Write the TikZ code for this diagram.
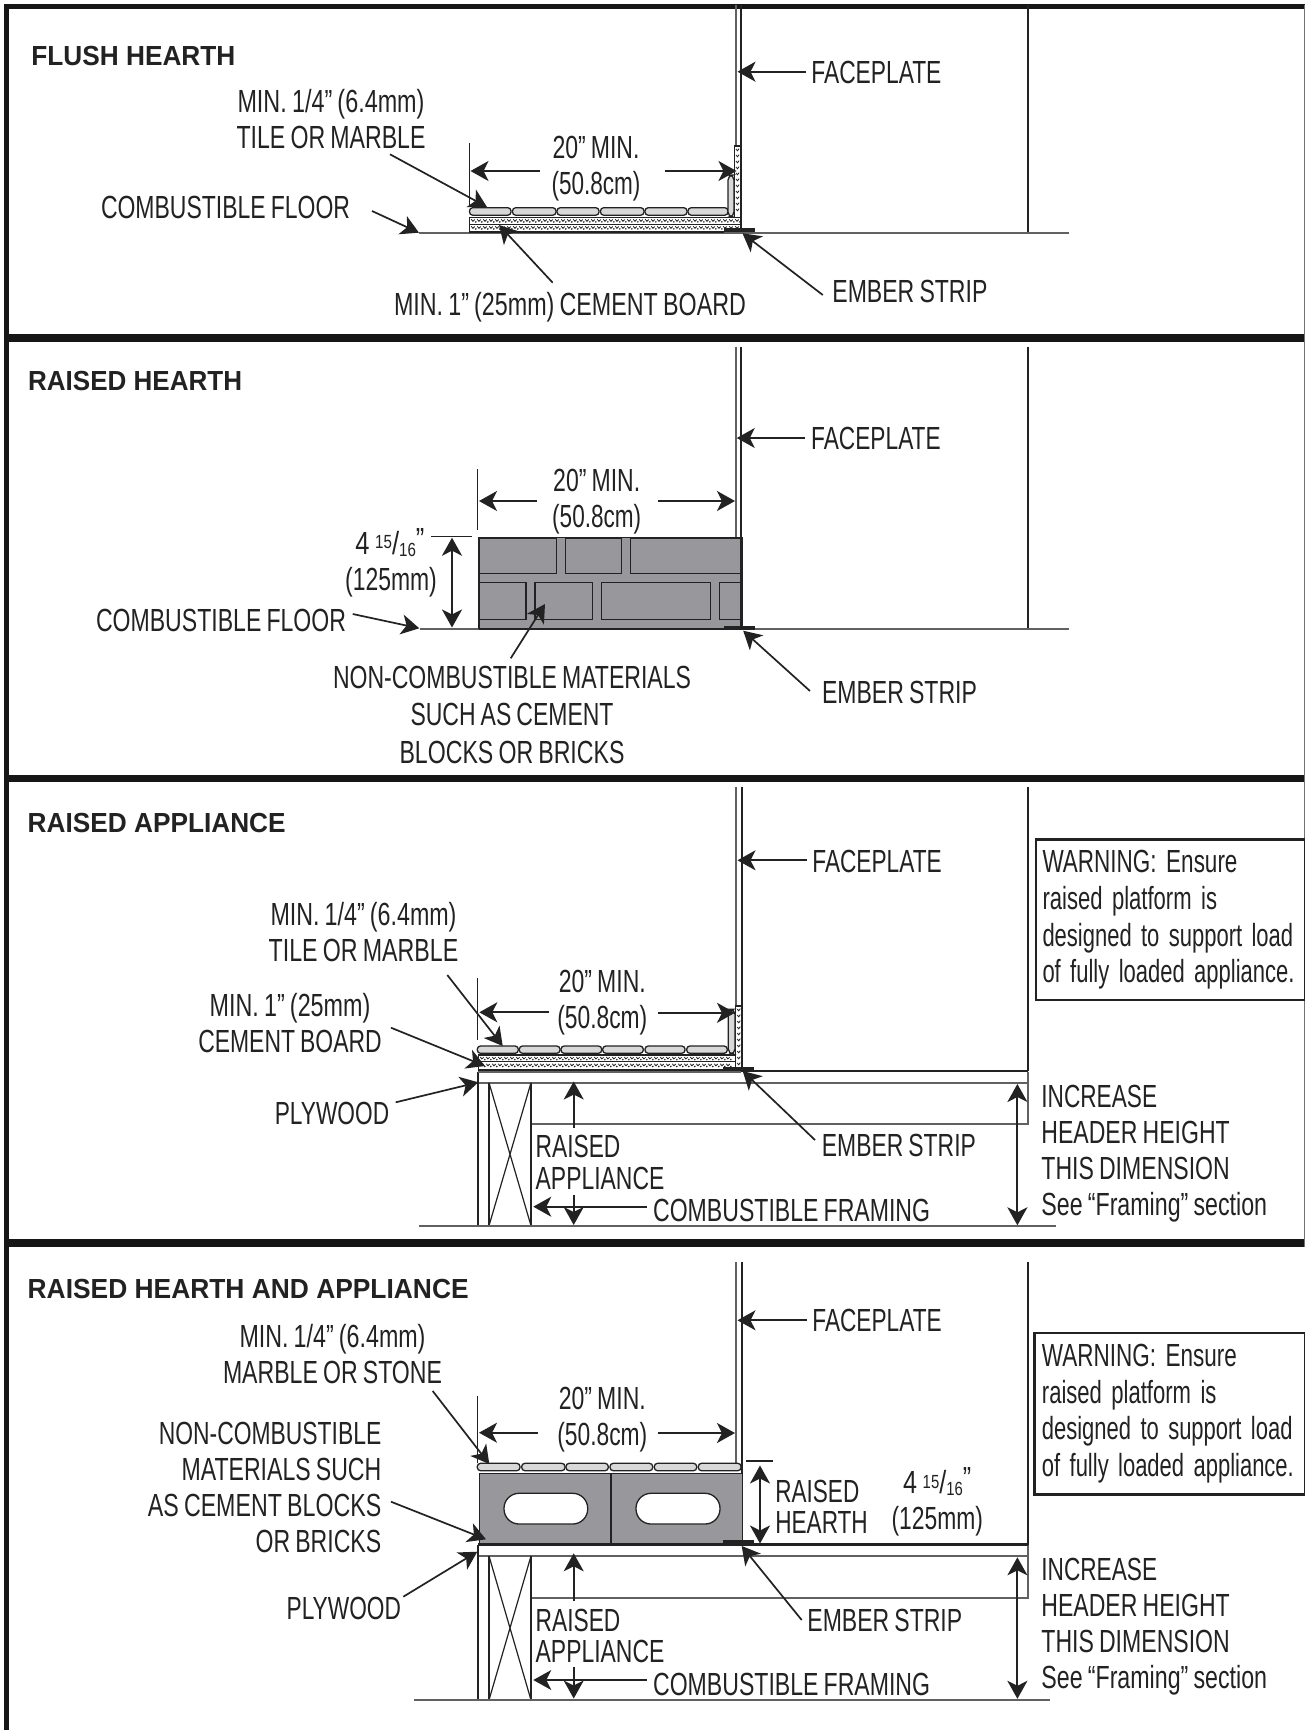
\documentclass[tikz,border=0pt]{standalone}
\usepackage{fontspec}
\usepackage{graphicx}
\usetikzlibrary{arrows.meta}
\setmainfont[FakeStretch=0.78,WordSpace=0.8]{Liberation Sans}
\newfontfamily\titlefont{Liberation Sans}
\definecolor{ink}{HTML}{222222}
\definecolor{barc}{HTML}{161616}
\definecolor{blockc}{HTML}{98989C}
\definecolor{tilec}{HTML}{D8D8D9}
\newsavebox\fitbox
\newcommand\fit[2]{\sbox\fitbox{#2}\pgfmathsetmacro\fitr{#1*0.5/\wd\fitbox}\scalebox{\fitr}[1]{\usebox\fitbox}}
\newcommand\frc{4 \raisebox{2.6pt}{\fontsize{9.5}{9.5}\selectfont 15}/\raisebox{-1.2pt}{\fontsize{9.5}{9.5}\selectfont 16}\raisebox{2pt}{”}}
\tikzset{
  lbl/.style={inner sep=0pt,anchor=base,text=ink,font=\fontsize{16}{18}\selectfont,align=center},
  lblw/.style={lbl,anchor=base west,align=left},
  ttl/.style={inner sep=0pt,anchor=base west,text=ink,font=\titlefont\bfseries\fontsize{13.8}{16}\selectfont},
  arr/.style={draw=ink,line width=0.85pt,-{Stealth[length=9pt,width=10pt,inset=2.5pt]}},
  darr/.style={draw=ink,line width=1pt,{Stealth[length=9pt,width=10pt,inset=2.5pt]}-{Stealth[length=9pt,width=10pt,inset=2.5pt]}},
  dark/.style={draw=ink,line width=1pt},
  thin/.style={draw=ink,line width=0.6pt},
  grey/.style={draw=black!62,line width=0.85pt},
  tile/.style={draw=ink,line width=0.65pt,fill=tilec,rounded corners=1.6pt},
  cem/.style={draw=ink,line width=0.65pt,fill=white},
  spk/.style={draw=ink,line width=0.4pt},
  brick/.style={draw=ink,line width=0.65pt,fill=blockc},
  hole/.style={draw=ink,line width=0.65pt,fill=white,rounded corners=7.5pt},
  warn/.style={draw=ink,line width=1.2pt,inner sep=0pt,anchor=north west,text=ink,align=left,text width=128pt,font=\fontsize{16}{18.35}\selectfont},
}
\newcommand\lead[4][arr]{\coordinate (#2s) at (#3);\coordinate (#2e) at (#4);\draw[#1] (#2s) -- (#2e);}
\newcommand\speckH[4]{\draw[cem] (#1,#3) rectangle (#2,#4);
  \pgfmathsetmacro\sa{#1+2}\pgfmathsetmacro\sb{#1+8}\pgfmathsetmacro\sc{#2-4}
  \foreach \sx in {\sa,\sb,...,\sc}{\draw[spk] (\sx,#3+2) -- ++(1.6,2) -- ++(1.8,-1.8);\fill[ink] (\sx+4.5,#3+4.6) circle (0.9);}}
\newcommand\speckV[4]{\draw[cem] (#1,#3) rectangle (#2,#4);
  \pgfmathsetmacro\sa{#3+3}\pgfmathsetmacro\sb{#3+9}\pgfmathsetmacro\sc{#4-4}
  \foreach \sy in {\sa,\sb,...,\sc}{\draw[spk] (#1+1.5,\sy) -- ++(1.5,1.8) -- ++(1.6,-2.2);}}
\newcommand\raisedframe[5]{%
  \draw[grey] (478,#2) -- (1028,#2) (1028,#1) -- (1028,#3) -- (531,#3) -- (531,#2);
  \draw[dark,line width=0.8pt] (478,#1) -- (478,#4) (489,#2) -- (489,#4) (531,#2) -- (531,#4);
  \draw[thin] (489,#2) -- (531,#4) (531,#2) -- (489,#4);
  \draw[grey] (#5,#4) -- (478,#4) -- (1000,#4);}
\begin{document}
\begin{tikzpicture}[x=0.5pt,y=-0.5pt]
\path[use as bounding box,fill=white] (0,0) rectangle (1305,1730);
% frame
\fill[barc] (4.3,4.3) rectangle (1305,9.3);
\fill[barc] (4.3,4.3) rectangle (9.3,1730);
\fill[barc] (4.3,334) rectangle (1305,342);
\fill[barc] (4.3,775) rectangle (1305,782);
\fill[barc] (4.3,1239) rectangle (1305,1247);
\draw[black!55,line width=0.5pt] (1304.4,5) -- (1304.4,1247);

%% PANEL 1
\node[ttl] (t1) at (31,65) {\fit{204}{FLUSH HEARTH}};
\draw[grey] (736,5) -- (736,146);
\draw[dark] (741.4,5) -- (741.4,232.7);
\draw[dark] (1027.5,5) -- (1027.5,232.7);
\draw[grey,line width=1pt] (419,232.7) -- (1069,232.7);
\speckH{469.3}{741}{217.3}{224.3}
\speckH{469.3}{741}{224.3}{231.7}
\draw[thin] (469.3,143) -- (469.3,205);
\speckV{734.5}{741}{146}{217.3}
\foreach \a/\b in {469.5/511,512.5/556,557/599,600.5/644,645/687,688/728}{\draw[tile] (\a,207.7) rectangle (\b,215.2);}
\draw[tile,rounded corners=2.5pt] (728,175) rectangle (734,217);
\fill[ink] (724,227.7) rectangle (755,231.8);
\draw[ink,line width=1pt] (469,232) -- (724,232);
\lead{a1a}{540,171}{470.5,171}
\lead{a1b}{665,171}{736.5,171}
\lead{a1c}{390,154.3}{487,207}
\lead{a1d}{372,211}{419,232.7}
\lead{a1e}{552.7,282.7}{499,225}
\lead{a1f}{822.8,295}{742.5,233.3}
\lead{a1g}{806,71.7}{737.5,71.7}
\node[lbl] (l1a) at (331,148) {\fit{187}{MIN. 1/4” (6.4mm)}\\\fit{189}{TILE OR MARBLE}};
\node[lbl] (l1b) at (225.5,218) {\fit{249}{COMBUSTIBLE FLOOR}};
\node[lbl] (l1c) at (570,315) {\fit{352}{MIN. 1” (25mm) CEMENT BOARD}};
\node[lbl] (l1d) at (596,194) {\fit{87}{20” MIN.}\\\fit{89}{(50.8cm)}};
\node[lblw] (l1e) at (811,83) {\fit{130}{FACEPLATE}};
\node[lblw] (l1f) at (832,302) {\fit{155}{EMBER STRIP}};

%% PANEL 2
\node[ttl] (t2) at (27.7,390.7) {\fit{214}{RAISED HEARTH}};
\draw[grey] (736,346.7) -- (736,537);
\draw[dark] (741.4,346.7) -- (741.4,629.3);
\draw[dark] (1027.5,346.7) -- (1027.5,629.3);
\draw[grey] (419.6,629.3) -- (1068.7,629.3);
\fill[blockc] (479,537.3) rectangle (741,629.3);
\draw[brick,fill=none,line width=0.8pt] (741,537.5) -- (479,537.5) -- (479,629.3);
\foreach \a/\b in {479/556.3,565.3/621.7,630.7/741}{\draw[brick] (\a,538.3) rectangle (\b,573.3);}
\foreach \a/\b in {479/526,535/592.3,601.7/710.7,719.3/741}{\draw[brick] (\a,582.3) rectangle (\b,619.3);}
\draw[ink,line width=1.1pt] (479,629) -- (741,629);
\draw[dark,line width=1.1pt] (741.4,537) -- (741.4,629);
\fill[ink] (724.3,626) rectangle (755,629.6);
\draw[thin] (477.3,469.3) -- (477.3,530);
\draw[thin] (431,536.7) -- (471.7,536.7);
\lead{a2a}{537.3,501}{479,501}
\lead{a2b}{658,501}{735,501}
\coordinate (a2cs) at (452,537.7);\coordinate (a2ce) at (452,627.5);
\draw[darr] (a2cs) -- (a2ce);
\lead{a2d}{352.7,614}{419.3,628.3}
\lead{a2e}{510.7,658.3}{545,604}
\lead{a2f}{810,691}{743.2,630.7}
\lead{a2g}{805.4,438}{736.8,438}
\node[lbl] (l2a) at (596.7,527) {\fit{87}{20” MIN.}\\\fit{89}{(50.8cm)}};
\node[lblw] (l2b) at (355,554) {\fit{69}{\frc}};
\node[lbl] (l2c) at (391,590) {\fit{91.7}{(125mm)}};
\node[lbl] (l2d) at (221,631.5) {\fit{250}{COMBUSTIBLE FLOOR}};
\node[lbl] (l2e) at (512,763.3) {\fit{358}{NON-COMBUSTIBLE MATERIALS}\\[0.8pt]\fit{203}{SUCH AS CEMENT}\\[0.8pt]\fit{225}{BLOCKS OR BRICKS}};
\node[lblw] (l2f) at (810.8,449.3) {\fit{129.5}{FACEPLATE}};
\node[lblw] (l2g) at (821.6,703.3) {\fit{155}{EMBER STRIP}};

%% PANEL 3
\node[ttl] (t3) at (27.3,832.7) {\fit{258}{RAISED APPLIANCE}};
\draw[grey] (736,787.3) -- (736,1007);
\draw[dark] (741.6,787.3) -- (741.6,1070.7);
\draw[dark] (1027.5,787.3) -- (1027.5,1071);
\raisedframe{1071.7}{1082.7}{1124}{1225.7}{419.3}
\draw[grey] (1000,1225.7) -- (1055.8,1225.7);
\draw[grey] (478,1071.7) -- (741,1071.7);
\draw[dark,line width=1.1pt] (741,1070.9) -- (1028,1070.9);
\speckH{478.3}{735.5}{1055}{1061.8}
\speckH{478.3}{735.5}{1061.8}{1069.4}
\draw[ink,line width=1pt] (478,1070) -- (735,1070);
\speckV{735.7}{741.7}{1006}{1069.4}
\foreach \a/\b in {477.3/518.3,519.3/560,561/601.7,602.7/643.3,645/685,686.7/727.3}{\draw[tile] (\a,1046) rectangle (\b,1053.3);}
\draw[tile,rounded corners=2.5pt] (728.3,1009.3) rectangle (735,1054);
\fill[ink] (723.3,1067.3) rectangle (754,1070.9);
\draw[thin] (477.3,978.3) -- (477.3,1040);
\lead{a3a}{549.3,1012.3}{479.3,1012.3}
\lead{a3b}{658.3,1012.8}{735,1012.8}
\lead{a3c}{447.3,975}{502.7,1046}
\lead{a3d}{391,1027.7}{485,1066}
\lead{a3e}{395.7,1102.3}{478.3,1082.3}
\lead{a3f}{573.7,1127.7}{573.7,1081.5}
\lead{a3g}{573.7,1195}{573.7,1225}
\lead{a3h}{646.7,1206.7}{533.3,1206.7}
\lead{a3i}{815,1140}{742.7,1071}
\lead{a3j}{807,860.3}{737.5,860.3}
\coordinate (a3ks) at (1017.4,1084);\coordinate (a3ke) at (1017.4,1225.3);
\draw[darr] (a3ks) -- (a3ke);
\node[lbl] (l3a) at (363.5,961.7) {\fit{186}{MIN. 1/4” (6.4mm)}\\\fit{189.6}{TILE OR MARBLE}};
\node[lbl] (l3b) at (290,1052.7) {\fit{160.7}{MIN. 1” (25mm)}\\\fit{183.4}{CEMENT BOARD}};
\node[lbl] (l3c) at (332,1124.3) {\fit{114.3}{PLYWOOD}};
\node[lbl] (l3d) at (602.3,1028.5) {\fit{87}{20” MIN.}\\\fit{90}{(50.8cm)}};
\node[lblw] (l3e) at (535.3,1189) {\fit{84.7}{RAISED}\\[-2pt]\fit{128.7}{APPLIANCE}};
\node[lblw] (l3f) at (652.7,1221.7) {\fit{277}{COMBUSTIBLE FRAMING}};
\node[lblw] (l3g) at (821.5,1156.7) {\fit{154}{EMBER STRIP}};
\node[lblw] (l3h) at (812,872.3) {\fit{129.3}{FACEPLATE}};
\node[warn,minimum width=134.7pt,minimum height=80.35pt] (w3) at (1034.6,838.3) {\fit{195}{WARNING: Ensure}\\\fit{174.6}{raised platform is}\\\fit{250.7}{designed to support load}\\\fit{252}{of fully loaded appliance.}};
\node[lblw] (l3i) at (1041,1215) {\fit{115.7}{INCREASE}\\\fit{188.4}{HEADER HEIGHT}\\\fit{188.4}{THIS DIMENSION}\\\fit{225.7}{See “Framing” section}};

%% PANEL 4
\node[ttl] (t4) at (27.3,1298.3) {\fit{441}{RAISED HEARTH AND APPLIANCE}};
\draw[grey] (736,1261.7) -- (736,1463);
\draw[dark] (741.6,1261.7) -- (741.6,1473);
\draw[dark] (1027.7,1261.7) -- (1027.7,1545);
\raisedframe{1545}{1556}{1597.7}{1700}{414.3}
\draw[grey] (1000,1700) -- (1050,1700);
\fill[blockc] (479.3,1473.3) rectangle (742.3,1544);
\draw[brick,fill=none,line width=0.8pt] (479.3,1544) -- (479.3,1473.3) -- (742.3,1473.3) -- (742.3,1544);
\draw[dark,line width=1pt] (611,1473.3) -- (611,1544);
\draw[hole] (504,1493.3) rectangle (587.7,1524);
\draw[hole] (636,1493.3) rectangle (720,1524);
\foreach \a/\b in {477.3/520,521.7/565,566/608.3,610/652.7,654.3/696.7,698.3/741}{\draw[tile] (\a,1463.3) rectangle (\b,1470.7);}
\draw[dark,line width=1.2pt] (478,1544.6) -- (1028,1544.6);
\fill[ink] (722.7,1540) rectangle (754,1545);
\draw[thin] (477.3,1396) -- (477.3,1463);
\draw[thin] (746,1461) -- (772.7,1461);
\lead{a4a}{537.7,1432.7}{479,1432.7}
\lead{a4b}{658.3,1433}{735,1433}
\lead{a4c}{432.7,1391}{489.3,1464}
\lead{a4d}{391,1501.7}{486,1539.3}
\lead{a4e}{403.3,1596.7}{477.3,1551.7}
\lead{a4f}{573.7,1601}{573.7,1553.3}
\lead{a4g}{573.7,1667.3}{573.7,1698.5}
\lead{a4h}{646.7,1680}{533.3,1680}
\lead{a4i}{801.7,1620}{741.7,1546}
\lead{a4j}{807,1320.3}{737.5,1320.3}
\coordinate (a4ks) at (760,1465.5);\coordinate (a4ke) at (760,1543.5);
\draw[darr] (a4ks) -- (a4ke);
\coordinate (a4ls) at (1017.4,1557.3);\coordinate (a4le) at (1017.4,1698.8);
\draw[darr] (a4ls) -- (a4le);
\node[lbl] (l4a) at (332.5,1383.3) {\fit{186}{MIN. 1/4” (6.4mm)}\\\fit{219}{MARBLE OR STONE}};
\node[lbl,anchor=base east,align=right] (l4b) at (381.7,1552.3) {\fit{222.4}{NON-COMBUSTIBLE}\\\fit{199.7}{MATERIALS SUCH}\hspace{3pt}\\\fit{233.4}{AS CEMENT BLOCKS}\hspace{3pt}\\[0.15pt]\fit{125.7}{OR BRICKS}};
\node[lbl] (l4c) at (343.8,1619) {\fit{114.3}{PLYWOOD}};
\node[lbl] (l4d) at (602.3,1445) {\fit{87}{20” MIN.}\\\fit{90}{(50.8cm)}};
\node[lblw] (l4e) at (774.9,1533.3) {\fit{84}{RAISED}\\[-2.5pt]\fit{92.5}{HEARTH}};
\node[lblw] (l4f) at (902.8,1493.3) {\fit{68}{\frc}};
\node[lbl] (l4g) at (937.3,1529.3) {\fit{91.4}{(125mm)}};
\node[lblw] (l4h) at (535.3,1662.7) {\fit{84.7}{RAISED}\\[-2.5pt]\fit{128.7}{APPLIANCE}};
\node[lblw] (l4i) at (652.7,1695) {\fit{277}{COMBUSTIBLE FRAMING}};
\node[lblw] (l4j) at (807,1631.7) {\fit{154.8}{EMBER STRIP}};
\node[lblw] (l4k) at (812,1331.7) {\fit{129.3}{FACEPLATE}};
\node[warn,minimum width=135.3pt,minimum height=80.8pt] (w4) at (1033.4,1331.7) {\fit{195}{WARNING: Ensure}\\\fit{174.6}{raised platform is}\\\fit{250.7}{designed to support load}\\\fit{252}{of fully loaded appliance.}};
\node[lblw] (l4l) at (1041,1688.3) {\fit{115.7}{INCREASE}\\\fit{188.4}{HEADER HEIGHT}\\\fit{188.4}{THIS DIMENSION}\\\fit{225.7}{See “Framing” section}};
\end{tikzpicture}
\end{document}
